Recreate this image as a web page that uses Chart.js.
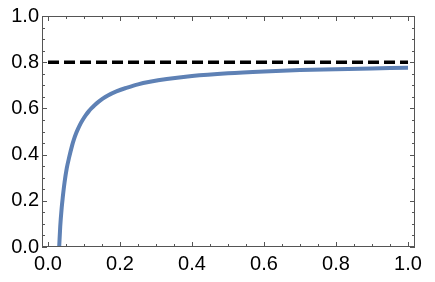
<!DOCTYPE html>
<html>
<head>
<meta charset="utf-8">
<script src="https://cdn.jsdelivr.net/npm/chart.js@4/dist/chart.umd.min.js"></script>
<style>
  body { margin: 0; background: #fff; }
</style>
</head>
<body>
<canvas id="chart-1" width="435" height="282"></canvas>
<script>
/************************ data ******************************************************/

const curveX = [0.031, 0.034, 0.038, 0.041, 0.046, 0.052, 0.059, 0.067, 0.072, 0.077, 0.083, 0.09, 0.097, 0.105, 0.113, 0.121, 0.13, 0.14, 0.152, 0.165, 0.19, 0.22, 0.25, 0.283, 0.33, 0.4, 0.5, 0.6, 0.7, 0.8, 0.9, 1.0];
const curveY = [0, 0.09, 0.17, 0.215, 0.28, 0.34, 0.39, 0.44, 0.466, 0.488, 0.51, 0.533, 0.552, 0.571, 0.587, 0.601, 0.615, 0.628, 0.642, 0.655, 0.674, 0.69, 0.704, 0.715, 0.727, 0.74, 0.752, 0.76, 0.766, 0.77, 0.773, 0.776];
const limitX = [0, 1];
const limitY = [0.8, 0.8];
const xTicks = [0, 0.2, 0.4, 0.6, 0.8, 1.0];
const yTicks = [0, 0.2, 0.4, 0.6, 0.8, 1.0];
const minorTicks = [0, 0.05, 0.1, 0.15, 0.2, 0.25, 0.3, 0.35, 0.4, 0.45, 0.5, 0.55, 0.6, 0.65, 0.7, 0.75, 0.8, 0.85, 0.9, 0.95, 1.0];

/************************ frame with inward ticks *********************************/

const framePlugin = {
  id: "frame",
  afterDatasetsDraw(chart) {
    const ctx = chart.ctx;
    const a = chart.chartArea;
    const xs = chart.scales.x;
    const ys = chart.scales.y;
    ctx.save();
    ctx.strokeStyle = "#555";
    ctx.lineWidth = 1;
    ctx.strokeRect(a.left + 0.5, a.top + 0.5, a.right - a.left - 1, a.bottom - a.top - 1);
    minorTicks.forEach((v) => {
      const major = xTicks.some((t) => Math.abs(t - v) < 1e-9);
      const len = major ? 5 : 3;
      const px = Math.round(xs.getPixelForValue(v)) + 0.5;
      ctx.beginPath();
      ctx.moveTo(px, a.bottom);
      ctx.lineTo(px, a.bottom - len);
      ctx.moveTo(px, a.top);
      ctx.lineTo(px, a.top + len);
      const py = Math.round(ys.getPixelForValue(v)) + 0.5;
      ctx.moveTo(a.left, py);
      ctx.lineTo(a.left + len, py);
      ctx.moveTo(a.right, py);
      ctx.lineTo(a.right - len, py);
      ctx.stroke();
    });
    ctx.restore();
  },
};

const ctx1 = document.getElementById("chart-1").getContext("2d");
const myChart1 = new Chart(ctx1, {
  type: "scatter",
  data: {
    datasets: [
      {
        data: curveX.map((x, i) => ({ x: x, y: curveY[i] })),
        showLine: true,
        borderColor: "#5E81B5",
        borderWidth: 4,
        pointRadius: 0,
        cubicInterpolationMode: "monotone",
      },
      {
        data: limitX.map((x, i) => ({ x: x, y: limitY[i] })),
        showLine: true,
        borderColor: "#000",
        borderWidth: 3.5,
        borderDash: [11, 5],
        pointRadius: 0,
      },
    ],
  },
  options: {
    responsive: false,
    animation: false,
    layout: {
      padding: { top: 16, right: 20, left: 0, bottom: 0 },
    },
    plugins: {
      legend: { display: false },
      tooltip: { enabled: false },
    },
    scales: {
      x: {
        type: "linear",
        min: -0.0167,
        max: 1.0194,
        grid: { display: false, drawTicks: false },
        border: { display: false },
        afterBuildTicks: (s) => { s.ticks = xTicks.map((v) => ({ value: v })); },
        afterFit: (s) => { s.height = 35; },
        ticks: {
          autoSkip: false,
          maxRotation: 0,
          padding: 5,
          color: "#000",
          font: { family: "Liberation Sans", size: 20 },
          callback: (v) => Number(v).toFixed(1),
        },
      },
      y: {
        type: "linear",
        min: 0,
        max: 1,
        grid: { display: false, drawTicks: false },
        border: { display: false },
        afterBuildTicks: (s) => { s.ticks = yTicks.map((v) => ({ value: v })); },
        afterFit: (s) => { s.width = 42; },
        ticks: {
          autoSkip: false,
          padding: 3,
          color: "#000",
          font: { family: "Liberation Sans", size: 20 },
          callback: (v) => Number(v).toFixed(1),
        },
      },
    },
  },
  plugins: [framePlugin],
});
</script>
</body>
</html>
